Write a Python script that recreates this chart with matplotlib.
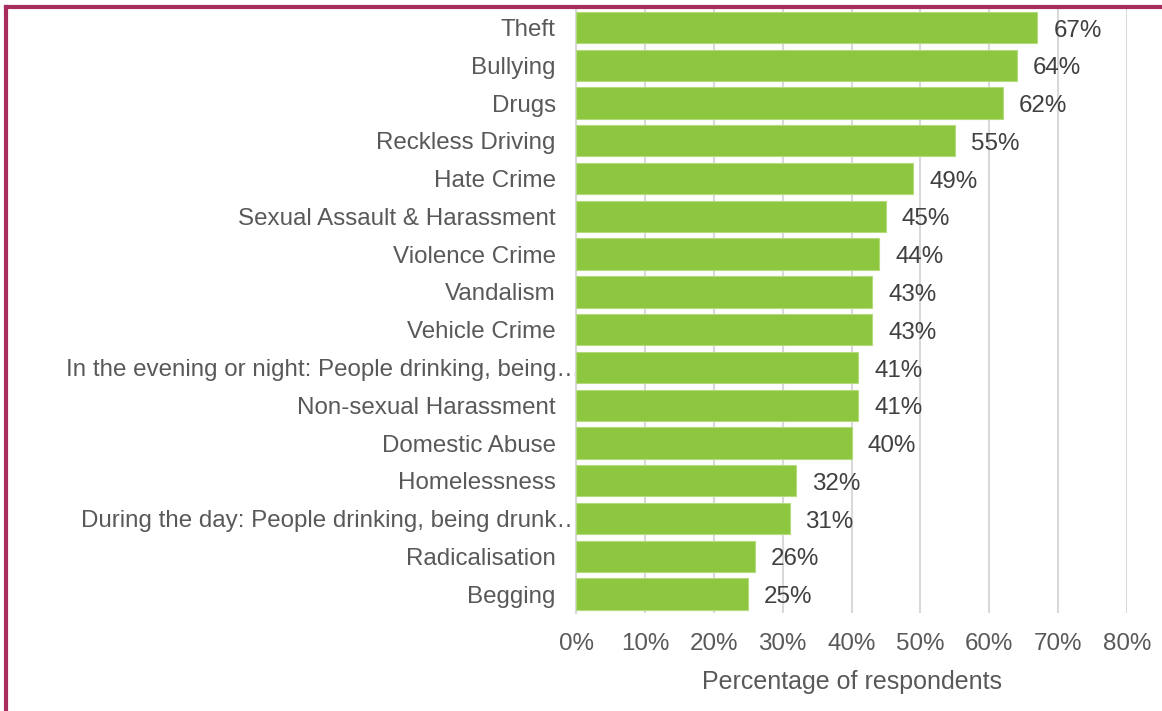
import matplotlib.pyplot as plt
import matplotlib.transforms as mtransforms
from matplotlib.lines import Line2D

plt.rcParams["font.family"] = ["Liberation Sans", "DejaVu Sans"]

categories = [
    "Theft",
    "Bullying",
    "Drugs",
    "Reckless Driving",
    "Hate Crime",
    "Sexual Assault & Harassment",
    "Violence Crime",
    "Vandalism",
    "Vehicle Crime",
    "In the evening or night: People drinking, being…",
    "Non-sexual Harassment",
    "Domestic Abuse",
    "Homelessness",
    "During the day: People drinking, being drunk…",
    "Radicalisation",
    "Begging",
]
values = [67, 64, 62, 55, 49, 45, 44, 43, 43, 41, 41, 40, 32, 31, 26, 25]
x_ticks = [0, 10, 20, 30, 40, 50, 60, 70, 80]

BAR_GREEN = "#8DC63F"
LABEL_GREY = "#595959"
VALUE_GREY = "#404040"
GRID_GREY = "#D9D9D9"
FRAME_RED = "#A62D5E"
FS = 17.4

fig = plt.figure(figsize=(11.62, 7.11), dpi=100)
ax = fig.add_axes([576 / 1162, 1 - 613 / 711, (1127 - 576) / 1162, (613 - 8.6) / 711])

ypos = list(range(len(categories)))
ax.barh(ypos, values, height=0.83, color=BAR_GREEN, edgecolor="#B3DB7C",
        linewidth=0.8, zorder=3)

for y, v in zip(ypos, values):
    ax.annotate(f"{v}%", xy=(v, y), xytext=(11.5, -2.2), textcoords="offset points",
                ha="left", va="center", fontsize=FS, color=VALUE_GREY)

ax.set_xlim(0, 80)
ax.set_ylim(len(categories) - 0.5, -0.5)
ax.set_xticks(x_ticks)
ax.set_xticklabels([f"{t}%" for t in x_ticks], fontsize=FS, color=LABEL_GREY)
ax.set_yticks(ypos)
ax.set_yticklabels(categories, fontsize=FS, color=LABEL_GREY)
ax.tick_params(axis="y", length=0, pad=14.5)
ax.tick_params(axis="x", length=0, pad=14.5)

# truncated labels run a little past the others
shift = mtransforms.ScaledTranslation(25 / 100, 0, fig.dpi_scale_trans)
for lbl in ax.get_yticklabels():
    if lbl.get_text().endswith("…"):
        lbl.set_transform(lbl.get_transform() + shift)

ax.grid(axis="x", color=GRID_GREY, linewidth=1.5, zorder=0)
ax.set_axisbelow(True)
for side in ["top", "right", "bottom"]:
    ax.spines[side].set_visible(False)
ax.spines["left"].set_color(GRID_GREY)
ax.spines["left"].set_linewidth(1.5)

ax.set_xlabel("Percentage of respondents", fontsize=18, color=LABEL_GREY, labelpad=11)

# frame around the chart
fig.add_artist(Line2D([6 / 1162, 6 / 1162], [0, 1 - 7 / 711], transform=fig.transFigure,
                      color=FRAME_RED, linewidth=3, solid_capstyle="projecting"))
fig.add_artist(Line2D([6 / 1162, 1], [1 - 7 / 711, 1 - 7 / 711], transform=fig.transFigure,
                      color=FRAME_RED, linewidth=3, solid_capstyle="projecting"))

fig.savefig("out.png", dpi=100)
